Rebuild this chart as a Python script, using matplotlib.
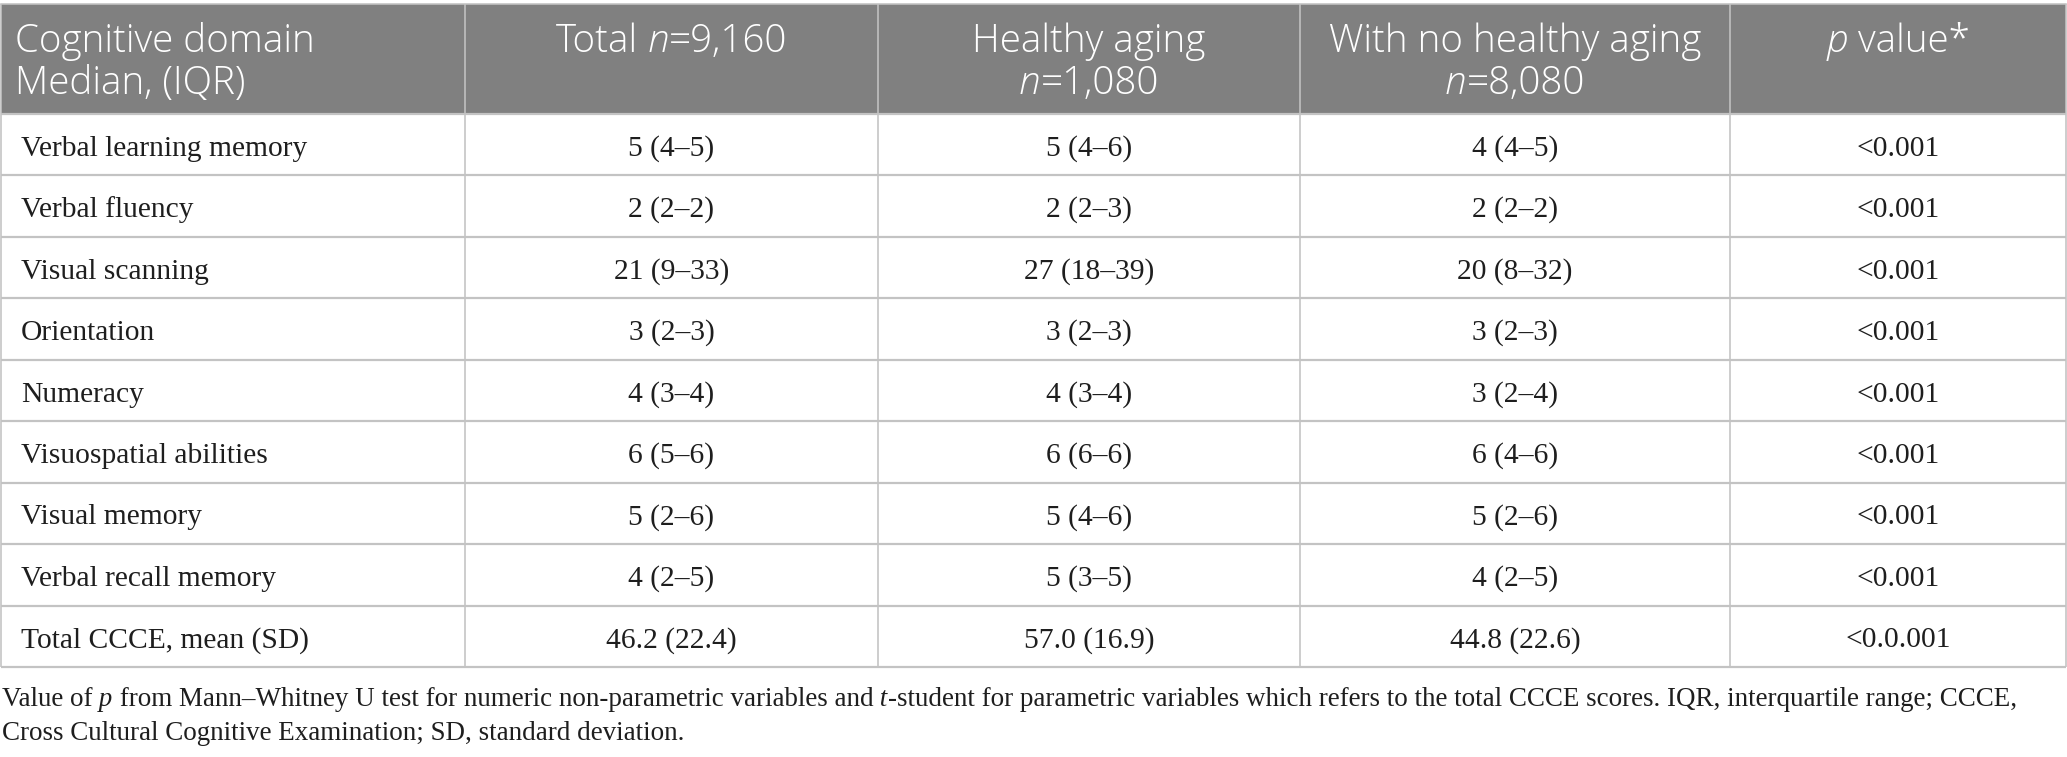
import matplotlib
matplotlib.use("Agg")
import matplotlib.pyplot as plt
from matplotlib.patches import Rectangle

# ---------------- data ----------------
domains = [
    "Verbal learning memory",
    "Verbal fluency",
    "Visual scanning",
    "Orientation",
    "Numeracy",
    "Visuospatial abilities",
    "Visual memory",
    "Verbal recall memory",
    "Total CCCE, mean (SD)",
]
total_vals = ["5 (4\u20135)", "2 (2\u20132)", "21 (9\u201333)", "3 (2\u20133)", "4 (3\u20134)",
              "6 (5\u20136)", "5 (2\u20136)", "4 (2\u20135)", "46.2 (22.4)"]
healthy_vals = ["5 (4\u20136)", "2 (2\u20133)", "27 (18\u201339)", "3 (2\u20133)", "4 (3\u20134)",
                "6 (6\u20136)", "5 (4\u20136)", "5 (3\u20135)", "57.0 (16.9)"]
no_healthy_vals = ["4 (4\u20135)", "2 (2\u20132)", "20 (8\u201332)", "3 (2\u20133)", "3 (2\u20134)",
                   "6 (4\u20136)", "5 (2\u20136)", "4 (2\u20135)", "44.8 (22.6)"]
p_values = ["<0.001"] * 8 + ["<0.0.001"]

# header: list of lines per column, each line a list of (text, style)
headers = [
    [[("Cognitive domain", "normal")], [("Median, (IQR)", "normal")]],
    [[("Total", "normal"), (" n", "italic"), ("=9,160", "normal")]],
    [[("Healthy aging", "normal")], [("n", "italic"), ("=1,080", "normal")]],
    [[("With no healthy aging", "normal")], [("n", "italic"), ("=8,080", "normal")]],
    [[("p", "italic"), (" value*", "normal")]],
]
footnote = [
    [("Value of", "normal"), (" p", "italic"),
     (" from Mann\u2013Whitney U test for numeric non-parametric variables and", "normal"),
     (" t", "italic"),
     ("-student for parametric variables which refers to the total CCCE scores. IQR, interquartile range; CCCE,", "normal")],
    [("Cross Cultural Cognitive Examination; SD, standard deviation.", "normal")],
]

# ---------------- layout / style ----------------
W, H = 2067, 757
col_edges = [0.5, 465, 878, 1300, 1730, 2066]
head_top, head_bot, table_bot = 4, 114, 667
header_bg = "#808080"
line_col = "#c3c3c3"
text_col = "#1e1e1e"
serif = ["Liberation Serif", "DejaVu Serif"]
sans = ["Open Sans", "DejaVu Sans"]
PX = 0.72  # points per pixel at dpi 100

fig = plt.figure(figsize=(W / 100, H / 100), dpi=100)
ax = fig.add_axes([0, 0, 1, 1])
ax.set_xlim(0, W)
ax.set_ylim(H, 0)
ax.axis("off")
renderer = fig.canvas.get_renderer()


def rich(x, y, segs, ha, family, size_px, color, weight="normal", target_width=None):
    arts = []
    for s, st in segs:
        t = ax.text(0, y, s, family=family, fontsize=size_px * PX, style=st,
                    color=color, ha="left", va="baseline", weight=weight)
        arts.append(t)
    widths = [a.get_window_extent(renderer).width for a in arts]
    tot = sum(widths)
    if target_width is not None:
        scale = target_width / tot
        for a in arts:
            a.set_fontsize(size_px * PX * scale)
        widths = [a.get_window_extent(renderer).width for a in arts]
        tot = sum(widths)
    x0 = x - tot / 2 if ha == "center" else x
    for a, w in zip(arts, widths):
        a.set_x(x0)
        x0 += w
    return arts


# header background
ax.add_patch(Rectangle((col_edges[0], head_top), col_edges[-1] - col_edges[0],
                       head_bot - head_top, facecolor=header_bg, edgecolor="none"))

n_rows = len(domains)
row_h = (table_bot - head_bot) / n_rows
row_edges = [head_bot + i * row_h for i in range(n_rows + 1)]

# grid lines
ax.plot([col_edges[0], col_edges[-1]], [head_top, head_top], color=line_col, lw=1.6 * PX)
for y in row_edges:
    ax.plot([col_edges[0], col_edges[-1]], [y, y], color=line_col, lw=2.2 * PX,
            solid_capstyle="butt")
for x in col_edges:
    ax.plot([x, x], [head_top, table_bot], color=line_col, lw=1.6 * PX,
            solid_capstyle="butt")

# header text
head_base = [52, 94]
head_size = 38.5
for ci, lines in enumerate(headers):
    for li, segs in enumerate(lines):
        if ci == 0:
            rich(15, head_base[li], segs, "left", sans, head_size, "white", weight="light")
        else:
            cx = (col_edges[ci] + col_edges[ci + 1]) / 2
            rich(cx, head_base[li], segs, "center", sans, head_size, "white", weight="light")

# body
body_size = 29.5
columns = [domains, total_vals, healthy_vals, no_healthy_vals, p_values]
for ri in range(n_rows):
    yb = (row_edges[ri] + row_edges[ri + 1]) / 2 + 11
    for ci, col in enumerate(columns):
        if ci == 0:
            rich(21, yb, [(col[ri], "normal")], "left", serif, body_size, text_col)
        else:
            cx = (col_edges[ci] + col_edges[ci + 1]) / 2
            rich(cx, yb, [(col[ri], "normal")], "center", serif, body_size, text_col)

# footnote
arts = rich(2, 706, footnote[0], "left", serif, 26, text_col, target_width=2021)
fsize_px = arts[0].get_fontsize() / PX
rich(2, 740, footnote[1], "left", serif, fsize_px, text_col)

fig.savefig("out.png", dpi=100, facecolor="white")
